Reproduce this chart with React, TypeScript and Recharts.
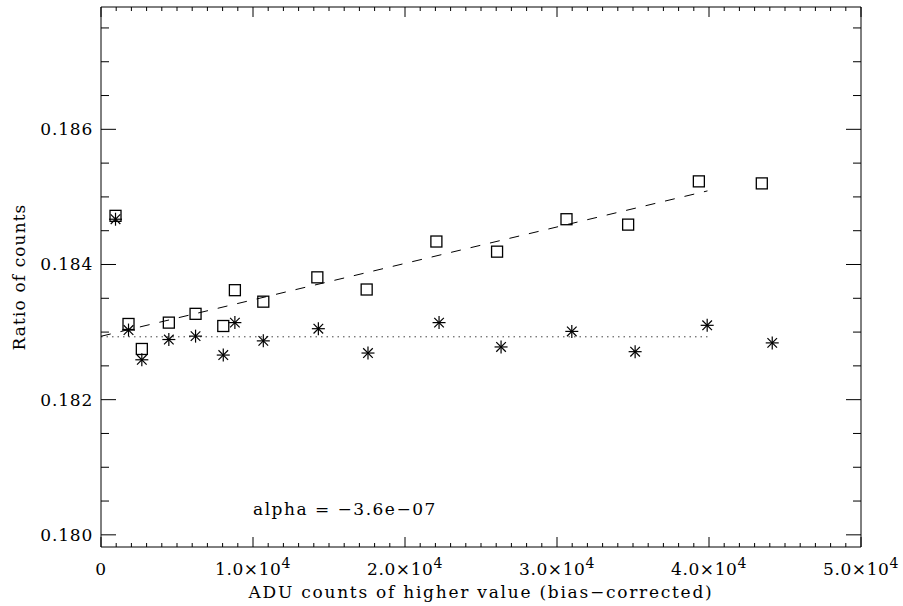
import React from "react";
import {
  ComposedChart,
  XAxis,
  YAxis,
  Scatter,
  Line,
  ReferenceDot,
} from "recharts";

// ---- data ----
const squareX = [955, 1810, 2686, 4463, 6221, 8044, 8808, 10678, 14233, 17478, 22065, 26057, 30625, 34680, 39333, 43474];
const squareY = [0.18472, 0.18312, 0.18275, 0.18314, 0.18327, 0.18309, 0.18362, 0.18345, 0.18381, 0.18363, 0.18434, 0.18419, 0.18467, 0.18459, 0.18523, 0.1852];

const starX = [955, 1810, 2686, 4463, 6221, 8044, 8808, 10678, 14300, 17565, 22240, 26320, 30974, 35140, 39880, 44160];
const starY = [0.18467, 0.18303, 0.18259, 0.18289, 0.18294, 0.18266, 0.18314, 0.18287, 0.18305, 0.18269, 0.18314, 0.18278, 0.18301, 0.18271, 0.1831, 0.18284];

const fitLineX = [0, 39900];
const fitLineY = [0.182938, 0.185089];

const meanLineX = [0, 39900];
const meanLineY = [0.18293, 0.18293];

const xMajorTicks = [0, 10000, 20000, 30000, 40000, 50000];
const xMajorMantissa = ["0", "1.0", "2.0", "3.0", "4.0", "5.0"];
const xExponent = "4";
const xMinorStep = 1000;

const yMajorTicks = [0.18, 0.182, 0.184, 0.186];
const yMajorLabels = ["0.180", "0.182", "0.184", "0.186"];
const yAllTicks = [0.18, 0.1805, 0.181, 0.1815, 0.182, 0.1825, 0.183, 0.1835, 0.184, 0.1845, 0.185, 0.1855, 0.186, 0.1865, 0.187, 0.1875];

const xDomain = [0, 50000];
const yDomain = [0.17982, 0.18781];

const xTitle = "ADU counts of higher value (bias\u2212corrected)";
const yTitle = "Ratio of counts";
const annotation = "alpha = \u22123.6e\u221207";
const annotationX = 10000;
const annotationY = 0.1803;

// ---- tables for the library ----
const squares = squareX.map((x, i) => ({ x, y: squareY[i] }));
const stars = starX.map((x, i) => ({ x, y: starY[i] }));
const fitLine = fitLineX.map((x, i) => ({ x, y: fitLineY[i] }));
const meanLine = meanLineX.map((x, i) => ({ x, y: meanLineY[i] }));
const xAllTicks = Array.from({ length: xDomain[1] / xMinorStep + 1 }, (_, i) => i * xMinorStep);

const FONT = "'DejaVu Serif', serif";
const FS = 17;
const TS = 1; // tickSize
const TM = 1; // tickMargin
const OFF = TS + TM;

const isYMajor = (v: number) => yMajorTicks.findIndex((t) => Math.abs(t - v) < 1e-7);

const XTickBottom = (props: any) => {
  const { x, payload } = props;
  const y = props.y - OFF;
  const v = payload.value;
  const idx = xMajorTicks.indexOf(v);
  const major = idx >= 0;
  return (
    <g>
      <line x1={x} x2={x} y1={y} y2={y - (major ? 10 : 4)} stroke="#000" strokeWidth={1} />
      {major && (
        <text x={x} y={y + 28} textAnchor="middle" fontFamily={FONT} fontSize={FS} letterSpacing={0.6} fill="#000">
          {xMajorMantissa[idx]}
          {v !== 0 && (
            <>
              {"\u00d710"}
              <tspan dy={-7} fontSize={14}>
                {xExponent}
              </tspan>
            </>
          )}
        </text>
      )}
    </g>
  );
};

const XTickTop = (props: any) => {
  const { x, payload } = props;
  const y = props.y + OFF;
  const major = xMajorTicks.indexOf(payload.value) >= 0;
  return <line x1={x} x2={x} y1={y} y2={y + (major ? 10 : 4)} stroke="#000" strokeWidth={1} />;
};

const YTickLeft = (props: any) => {
  const { y, payload } = props;
  const x = props.x + OFF;
  const idx = isYMajor(payload.value);
  const major = idx >= 0;
  return (
    <g>
      <line x1={x} x2={x + (major ? 15 : 8)} y1={y} y2={y} stroke="#000" strokeWidth={1} />
      {major && (
        <text x={x - 8} y={y + 6} textAnchor="end" fontFamily={FONT} fontSize={FS} letterSpacing={0.8} fill="#000">
          {yMajorLabels[idx]}
        </text>
      )}
    </g>
  );
};

const YTickRight = (props: any) => {
  const { y, payload } = props;
  const x = props.x - OFF;
  const major = isYMajor(payload.value) >= 0;
  return <line x1={x} x2={x - (major ? 15 : 8)} y1={y} y2={y} stroke="#000" strokeWidth={1} />;
};

const SquareShape = (props: any) => {
  const { cx, cy } = props;
  const h = 5.5;
  return <rect x={cx - h} y={cy - h} width={2 * h} height={2 * h} fill="none" stroke="#000" strokeWidth={1.3} />;
};

const StarShape = (props: any) => {
  const { cx, cy } = props;
  const r = 6.5;
  const d = 4.8;
  return (
    <g stroke="#000" strokeWidth={1.2}>
      <line x1={cx - r} x2={cx + r} y1={cy} y2={cy} />
      <line x1={cx} x2={cx} y1={cy - r} y2={cy + r} />
      <line x1={cx - d} x2={cx + d} y1={cy - d} y2={cy + d} />
      <line x1={cx - d} x2={cx + d} y1={cy + d} y2={cy - d} />
    </g>
  );
};

export default function App() {
  return (
    <div style={{ position: "absolute", left: 0, top: 0, width: 903, height: 606, background: "#fff" }}>
      <ComposedChart width={903} height={606} margin={{ top: 6, right: 41, left: 41, bottom: 19 }}>
        <XAxis
          dataKey="x"
          type="number"
          domain={xDomain}
          ticks={xAllTicks}
          interval={0}
          tickSize={TS}
          tickMargin={TM}
          tickLine={false}
          tick={<XTickBottom />}
          axisLine={{ stroke: "#000", strokeWidth: 1 }}
          height={40}
          allowDataOverflow
          label={{
            content: (p: any) => {
              const vb = p.viewBox;
              return (
                <text x={vb.x + vb.width / 2} y={vb.y + 51} textAnchor="middle" fontFamily={FONT} fontSize={FS} letterSpacing={1.75} fill="#000">
                  {xTitle}
                </text>
              );
            },
          }}
        />
        <XAxis
          xAxisId="top"
          orientation="top"
          dataKey="x"
          type="number"
          domain={xDomain}
          ticks={xAllTicks}
          interval={0}
          tickSize={TS}
          tickMargin={TM}
          tickLine={false}
          tick={<XTickTop />}
          axisLine={{ stroke: "#000", strokeWidth: 1 }}
          height={1}
          allowDataOverflow
        />
        <YAxis
          type="number"
          domain={yDomain}
          ticks={yAllTicks}
          interval={0}
          tickSize={TS}
          tickMargin={TM}
          tickLine={false}
          tick={<YTickLeft />}
          axisLine={{ stroke: "#000", strokeWidth: 1 }}
          width={60}
          allowDataOverflow
          label={{
            content: (p: any) => {
              const vb = p.viewBox;
              const cx = 25;
              const cy = vb.y + vb.height / 2;
              return (
                <text x={cx} y={cy} transform={`rotate(-90, ${cx}, ${cy})`} textAnchor="middle" fontFamily={FONT} fontSize={FS} letterSpacing={1.1} fill="#000">
                  {yTitle}
                </text>
              );
            },
          }}
        />
        <YAxis
          yAxisId="right"
          orientation="right"
          type="number"
          domain={yDomain}
          ticks={yAllTicks}
          interval={0}
          tickSize={TS}
          tickMargin={TM}
          tickLine={false}
          tick={<YTickRight />}
          axisLine={{ stroke: "#000", strokeWidth: 1 }}
          width={1}
          allowDataOverflow
        />
        <Line
          data={meanLine}
          dataKey="y"
          type="linear"
          stroke="#444"
          strokeWidth={1}
          strokeDasharray="1.5 4"
          dot={false}
          activeDot={false}
          isAnimationActive={false}
          legendType="none"
        />
        <Line
          xAxisId="top"
          yAxisId="right"
          data={fitLine}
          dataKey="y"
          type="linear"
          stroke="#000"
          strokeWidth={1}
          strokeDasharray="10 10"
          dot={false}
          activeDot={false}
          isAnimationActive={false}
          legendType="none"
        />
        <Scatter data={squares} dataKey="y" shape={<SquareShape />} isAnimationActive={false} legendType="none" />
        <Scatter data={stars} dataKey="y" shape={<StarShape />} isAnimationActive={false} legendType="none" />
        <ReferenceDot
          x={annotationX}
          y={annotationY}
          r={0}
          shape={(p: any) => (
            <text x={p.cx} y={p.cy} fontFamily={FONT} fontSize={FS} letterSpacing={1.5} fill="#000">
              {annotation}
            </text>
          )}
        />
      </ComposedChart>
    </div>
  );
}
